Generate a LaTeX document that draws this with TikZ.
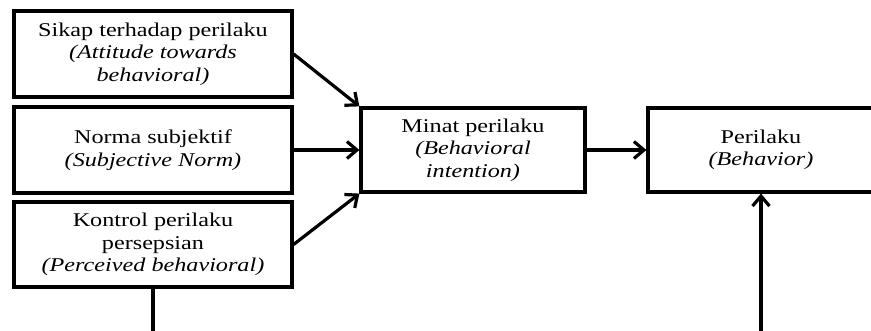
\documentclass[tikz,border=0pt]{standalone}
\usepackage{fontspec}
\setmainfont{Liberation Serif}[FakeStretch=1.24]
\usetikzlibrary{arrows.meta}

\begin{document}
\begin{tikzpicture}[x=1pt,y=1pt]
	\tikzstyle{kotak}=[draw,line width=3.2pt,align=center,inner sep=0pt,minimum width=278pt,minimum height=86pt,font=\fontsize{19.5}{22.5}\selectfont];
	\tikzstyle{panah}=[line width=3.2pt,-{Straight Barb[length=10pt,width=17pt]}];

	\useasboundingbox (0,0) rectangle (871,331);
	% kotak kiri
	\node[kotak] (sikap)   at (153,277)  {Sikap terhadap perilaku\\\textit{(Attitude towards}\\\textit{behavioral)}};
	\node[kotak] (norma)   at (153,181)  {Norma subjektif\\\textit{(Subjective Norm)}};
	\node[kotak,minimum height=85pt] (kontrol) at (153,86.5) {Kontrol perilaku\\persepsian\\\textit{(Perceived behavioral)}};
	% kotak kanan
	\node[kotak,minimum width=224pt,minimum height=84pt] (minat)    at (473,181) {Minat perilaku\\\textit{(Behavioral}\\\textit{intention)}};
	\node[kotak,minimum width=226pt,minimum height=84pt] (perilaku) at (761,181) {Perilaku\\\textit{(Behavior)}};
	\coordinate (bawahkiri)  at (153,-3);
	\coordinate (bawahkanan) at (761,-3);

	\draw[panah] (sikap.east)   -- (minat.north west);
	\draw[panah] (norma.east)   -- (minat.west);
	\draw[panah] (kontrol.east) -- (minat.south west);
	\draw[panah] (minat.east)   -- (perilaku.west);
	\draw[panah] (bawahkanan)   -- (perilaku.south);
	\draw[line width=3.2pt] (kontrol.south) -- (bawahkiri);
\end{tikzpicture}
\end{document}
